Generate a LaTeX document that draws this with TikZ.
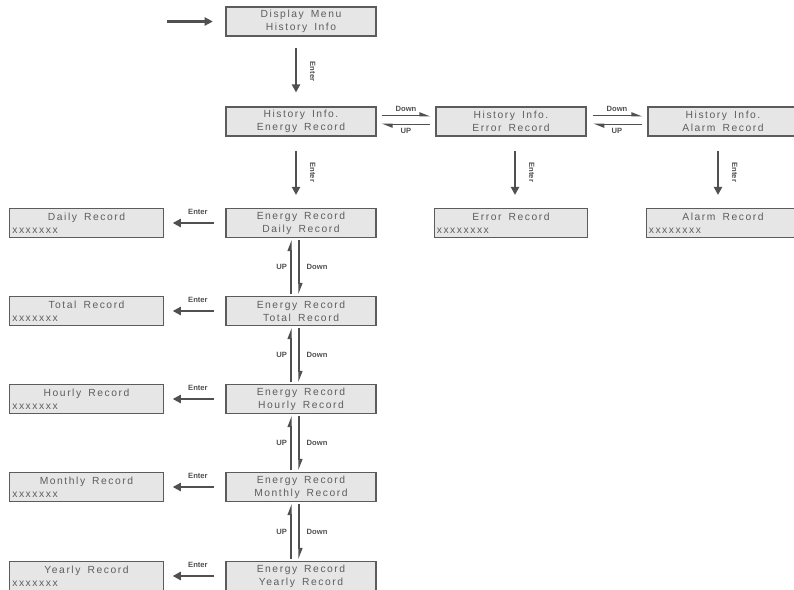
\documentclass[tikz,border=0pt]{standalone}
\usepackage{fontspec}
\setmainfont{Liberation Sans}
\newfontfamily\lcdfont[LetterSpace=15,WordSpace=1.6]{Liberation Sans}
\usepackage{tikz}
\usetikzlibrary{positioning}
\usetikzlibrary{calc,arrows.meta}
\definecolor{lcdfill}{HTML}{E6E6E6}
\definecolor{lcdline}{HTML}{5C5C5C}
\definecolor{lcdtext}{HTML}{5E5E5E}
\definecolor{keygray}{HTML}{505050}
\newcommand{\rline}[2]{\makebox[4.45cm]{#1}\\\makebox[4.45cm][l]{#2}}
\tikzset{
	screen/.style = {rectangle, draw=lcdline, fill=lcdfill, line width=0.9pt,
	 minimum width=4.5cm, minimum height=0.87cm, inner sep=0pt,
	 align=center, text=lcdtext, font=\lcdfont\fontsize{8.8}{11}\selectfont},
	result/.style = {screen, minimum width=4.6cm},
	keylbl/.style = {font=\bfseries\fontsize{6.5}{7}\selectfont, text=keygray, inner sep=1pt},
	enter/.style = {draw=keygray, line width=2.4pt, -{Triangle[length=7pt,width=7pt]}},
	nav/.style = {draw=keygray, line width=1.1pt, -{Triangle[harpoon,length=8pt,width=6pt]}},
}

\begin{document}
\begin{tikzpicture}[x=0.03cm, y=-0.03cm]
	\clip (0,0) rectangle (794,589);
	% menu and history screens
	\node[screen] (menu) at (301,21.5) {Display Menu\\History Info};
	\node[screen] (henergy) at (301,121.5) {History Info.\\Energy Record};
	\node[screen] (herror) at (511,121.5) {History Info.\\Error Record};
	\node[screen] (halarm) at (723,121.5) {History Info.\\Alarm Record};
	\node[result] (rerror) at (511,223) {\rline{Error Record}{xxxxxxxx}};
	\node[result] (ralarm) at (723,223) {\rline{Alarm Record}{xxxxxxxx}};
	% energy record screens
	\node[screen] (edaily) at (301,223) {Energy Record\\Daily Record};
	\node[screen] (etotal) at (301,311) {Energy Record\\Total Record};
	\node[screen] (ehourly) at (301,399) {Energy Record\\Hourly Record};
	\node[screen] (emonthly) at (301,487) {Energy Record\\Monthly Record};
	\node[screen] (eyearly) at (301,576) {Energy Record\\Yearly Record};
	\node[result] (rdaily) at (86.5,223) {\rline{Daily Record}{xxxxxxx}};
	\node[result] (rtotal) at (86.5,311) {\rline{Total Record}{xxxxxxx}};
	\node[result] (rhourly) at (86.5,399) {\rline{Hourly Record}{xxxxxxx}};
	\node[result] (rmonthly) at (86.5,487) {\rline{Monthly Record}{xxxxxxx}};
	\node[result] (ryearly) at (86.5,576) {\rline{Yearly Record}{xxxxxxx}};

	\coordinate (start) at (167,21.5);
	\draw[enter, shorten >=0.38cm] (start) -- (menu.west);

	\draw[enter, shorten <=0.33cm, shorten >=0.42cm] ([xshift=-0.15cm]menu.south) -- ([xshift=-0.15cm]henergy.north)
		node[keylbl, midway, xshift=0.5cm, rotate=-90] {Enter};
	\draw[enter, shorten <=0.42cm, shorten >=0.39cm] ([xshift=-0.15cm]henergy.south) -- ([xshift=-0.15cm]edaily.north)
		node[keylbl, midway, xshift=0.5cm, rotate=-90] {Enter};
	\draw[enter, shorten <=0.42cm, shorten >=0.39cm] ([xshift=0.12cm]herror.south) -- ([xshift=0.12cm]rerror.north)
		node[keylbl, midway, xshift=0.5cm, rotate=-90] {Enter};
	\draw[enter, shorten <=0.42cm, shorten >=0.39cm] ([xshift=-0.15cm]halarm.south) -- ([xshift=-0.15cm]ralarm.north)
		node[keylbl, midway, xshift=0.5cm, rotate=-90] {Enter};

	% down / up between history screens
	\draw[nav, shorten <=0.15cm, shorten >=0.15cm] ([yshift=0.17cm]henergy.east) -- ([yshift=0.17cm]herror.west)
		node[keylbl, midway, above=2pt] {Down};
	\draw[nav, shorten <=0.15cm, shorten >=0.15cm] ([yshift=-0.08cm]herror.west) -- ([yshift=-0.08cm]henergy.east)
		node[keylbl, midway, below=2pt] {UP};
	\draw[nav, shorten <=0.2cm, shorten >=0.15cm] ([yshift=0.17cm]herror.east) -- ([yshift=0.17cm]halarm.west)
		node[keylbl, midway, above=2pt] {Down};
	\draw[nav, shorten <=0.15cm, shorten >=0.2cm] ([yshift=-0.08cm]halarm.west) -- ([yshift=-0.08cm]herror.east)
		node[keylbl, midway, below=2pt] {UP};

	% enter to the records, up / down between energy screens
	\foreach \e/\r in {edaily/rdaily, etotal/rtotal, ehourly/rhourly, emonthly/rmonthly, eyearly/ryearly} {
		\draw[enter, shorten <=0.33cm, shorten >=0.27cm] (\e.west) -- (\r.east)
			node[keylbl, midway, yshift=0.33cm, xshift=0.1cm] {Enter};
	}
	\foreach \a/\b in {edaily/etotal, etotal/ehourly, ehourly/emonthly, emonthly/eyearly} {
		\draw[nav, shorten <=0.06cm, shorten >=0.06cm] ([xshift=-0.3cm]\b.north) -- ([xshift=-0.3cm]\a.south)
			node[keylbl, midway, left=2pt] {UP};
		\draw[nav, shorten <=0.06cm, shorten >=0.06cm] ([xshift=-0.06cm]\a.south) -- ([xshift=-0.06cm]\b.north)
			node[keylbl, midway, right=5pt] {Down};
	}
\end{tikzpicture}
\end{document}
